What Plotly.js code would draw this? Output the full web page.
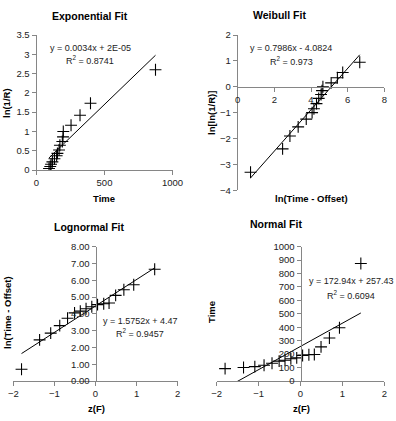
<!DOCTYPE html>
<html>
<head>
<meta charset="utf-8">
<script src="https://cdn.plot.ly/plotly-3.0.1.min.js"></script>
<style>
  html, body { margin: 0; padding: 0; background: #fff; }
  #chart { width: 396px; height: 421px; }
</style>
</head>
<body>
<div id="chart"></div>
<script>
// Failure times (hours) and the plotting positions used by the four probability fits
const time       = [92, 101, 107, 117, 132, 148, 154, 166, 172, 190, 195, 197, 254, 320, 397, 875];
const lnInvR     = [0.04, 0.09, 0.15, 0.21, 0.29, 0.37, 0.43, 0.52, 0.64, 0.74, 0.86, 1.0, 1.16, 1.42, 1.73, 2.6];
const lnTimeOff  = [0.7, 2.45, 2.85, 3.3, 3.74, 4.06, 4.16, 4.3, 4.42, 4.55, 4.6, 4.65, 5.1, 5.44, 5.73, 6.66];
const lnLnInvR   = [-3.3, -2.4, -1.9, -1.55, -1.25, -1.0, -0.85, -0.65, -0.45, -0.3, -0.15, 0.0, 0.15, 0.35, 0.55, 0.95];
const zF         = [-1.80, -1.36, -1.09, -0.87, -0.68, -0.51, -0.37, -0.23, -0.09, 0.05, 0.2, 0.33, 0.49, 0.69, 0.93, 1.44];

// Linear trendline coefficients [slope, intercept, R²]
const fitExp  = [0.0034, 2e-5, 0.8741];
const fitWei  = [0.7986, -4.0824, 0.973];
const fitLogn = [1.5752, 4.47, 0.9457];
const fitNorm = [172.94, 257.43, 0.6094];

const W = 396, H = 421;
const FONT = 'Liberation Sans, Arial, sans-serif';
const px = v => v / W;
const py = v => 1 - v / H;

function pointTrace(x, y, xa, ya) {
  return {
    x: x, y: y, xaxis: xa, yaxis: ya, type: 'scatter', mode: 'markers',
    marker: { symbol: 'cross-thin', size: 8.5, line: { width: 1.1, color: '#000' }, color: '#000' },
    hoverinfo: 'x+y', cliponaxis: true
  };
}
function fitTrace(x, fit, xa, ya) {
  const lo = Math.min(...x), hi = Math.max(...x);
  return {
    x: [lo, hi], y: [fit[0] * lo + fit[1], fit[0] * hi + fit[1]],
    xaxis: xa, yaxis: ya, type: 'scatter', mode: 'lines',
    line: { color: '#000', width: 1 }, hoverinfo: 'skip'
  };
}

const data = [
  pointTrace(time, lnInvR, 'x', 'y'),          fitTrace(time, fitExp, 'x', 'y'),
  pointTrace(lnTimeOff, lnLnInvR, 'x2', 'y2'), fitTrace(lnTimeOff, fitWei, 'x2', 'y2'),
  pointTrace(zF, lnTimeOff, 'x3', 'y3'),       fitTrace(zF, fitLogn, 'x3', 'y3'),
  pointTrace(zF, time, 'x4', 'y4'),            fitTrace(zF, fitNorm, 'x4', 'y4')
];

function axis(extra) {
  return Object.assign({
    showgrid: false, zeroline: false, showline: true, linecolor: '#868686', linewidth: 1,
    ticks: 'outside', ticklen: 4, tickcolor: '#868686', tickwidth: 1,
    tickfont: { family: FONT, size: 9.5, color: '#222' }, fixedrange: true
  }, extra);
}

// Plot areas in pixels: [left, right, top, bottom]
const boxTL = [36.5, 172.5, 35, 170];
const boxTR = [237.7, 384.3, 35, 190.3];
const boxBL = [13.3, 177.7, 246.7, 381];
const boxBR = [216.7, 384.3, 246.7, 381];
const dx = b => [px(b[0]), px(b[1])];
const dy = b => [py(b[3]), py(b[2])];

// where the crossing axes sit (data zero inside the other axis range)
const wY0 = dy(boxTR)[0] + (0 - (-4)) / 6 * (dy(boxTR)[1] - dy(boxTR)[0]);
const lX0 = dx(boxBL)[0] + 0.5 * (dx(boxBL)[1] - dx(boxBL)[0]);
const nX0 = dx(boxBR)[0] + 0.5 * (dx(boxBR)[1] - dx(boxBR)[0]);

function note(text, x, y, opts) {
  return Object.assign({
    text: text, xref: 'paper', yref: 'paper', x: px(x), y: py(y),
    xanchor: 'center', yanchor: 'middle', showarrow: false,
    font: { family: FONT, size: 9, color: '#222' }
  }, opts || {});
}
const bold = (sz) => ({ family: FONT, size: sz, color: '#000', weight: 'bold' });

const annotations = [
  // panel titles
  note('<b>Exponential Fit</b>', 90, 16, { font: bold(10.5) }),
  note('<b>Weibull Fit</b>', 279, 15, { font: bold(10.5) }),
  note('<b>Lognormal Fit</b>', 89, 227, { font: bold(10.5) }),
  note('<b>Normal Fit</b>', 276, 224, { font: bold(10.5) }),
  // axis titles
  note('<b>Time</b>', 104, 198, { font: bold(9.5) }),
  note('<b>ln(1/R)</b>', 6, 103, { font: bold(9.5), textangle: -90 }),
  note('<b>ln(Time - Offset)</b>', 311, 198, { font: bold(9.5) }),
  note('<b>ln[ln(1/R)]</b>', 211, 113, { font: bold(9.5), textangle: -90 }),
  note('<b>z(F)</b>', 96, 408, { font: bold(9.5) }),
  note('<b>ln(Time - Offset)</b>', 7, 313, { font: bold(9.5), textangle: -90 }),
  note('<b>z(F)</b>', 301, 408, { font: bold(9.5) }),
  note('<b>Time</b>', 211, 312, { font: bold(9.5), textangle: -90 }),
  // trendline equations
  note('y = 0.0034x + 2E-05', 90, 48),
  note('R<sup>2</sup> = ' + fitExp[2], 90, 60),
  note('y = 0.7986x - 4.0824', 291, 48),
  note('R<sup>2</sup> = ' + fitWei[2], 291, 61),
  note('y = 1.5752x + 4.47', 140, 321),
  note('R<sup>2</sup> = ' + fitLogn[2], 140, 332.5),
  note('y = 172.94x + 257.43', 351, 281),
  note('R<sup>2</sup> = ' + fitNorm[2], 351, 294.5)
];

const layout = {
  width: W, height: H, margin: { l: 0, r: 0, t: 0, b: 0 },
  paper_bgcolor: '#fff', plot_bgcolor: 'rgba(0,0,0,0)', showlegend: false,
  font: { family: FONT, size: 9.5, color: '#222' },
  xaxis:  axis({ domain: dx(boxTL), range: [0, 1000], dtick: 500, tick0: 0, anchor: 'y' }),
  yaxis:  axis({ domain: dy(boxTL), range: [0, 3.5], dtick: 0.5, tick0: 0, anchor: 'x' }),
  xaxis2: axis({ domain: dx(boxTR), range: [0, 8], dtick: 2, tick0: 0, anchor: 'free', position: wY0 }),
  yaxis2: axis({ domain: dy(boxTR), range: [-4, 2], dtick: 1, tick0: 0, anchor: 'x2' }),
  xaxis3: axis({ domain: dx(boxBL), range: [-2, 2], dtick: 1, tick0: 0, anchor: 'y3' }),
  yaxis3: axis({ domain: dy(boxBL), range: [0, 8], dtick: 1, tick0: 0, tickformat: '.2f', anchor: 'free', position: lX0 }),
  xaxis4: axis({ domain: dx(boxBR), range: [-2, 2], dtick: 1, tick0: 0, anchor: 'y4' }),
  yaxis4: axis({ domain: dy(boxBR), range: [0, 1000], dtick: 100, tick0: 0, anchor: 'free', position: nX0 }),
  annotations: annotations
};

Plotly.newPlot('chart', data, layout, { displayModeBar: false, staticPlot: true });
</script>
</body>
</html>
